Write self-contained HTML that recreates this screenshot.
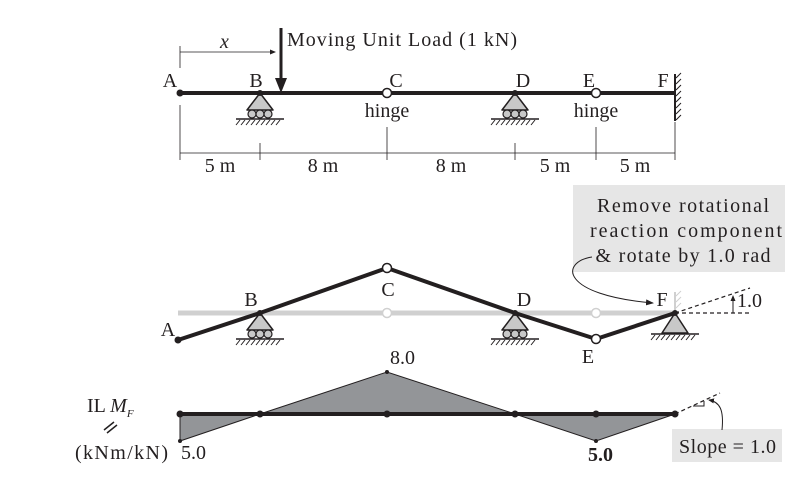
<!DOCTYPE html>
<html><head><style>body{margin:0;background:#fff}svg{display:block}text{font-family:"Liberation Serif",serif;font-size:20px;fill:#231f20}</style></head><body>
<svg width="800" height="480" viewBox="0 0 800 480" xmlns="http://www.w3.org/2000/svg">
<defs>
<marker id="ah" markerWidth="8" markerHeight="8" refX="7" refY="4" orient="auto" markerUnits="userSpaceOnUse"><path d="M0,1 L8,4 L0,7 Z" fill="#231f20"/></marker>
<marker id="ahs" markerWidth="6" markerHeight="6" refX="5" refY="3" orient="auto" markerUnits="userSpaceOnUse"><path d="M0,0.5 L6,3 L0,5.5 Z" fill="#231f20"/></marker>
<g id="roller">
<path d="M0,0 L-13,17 L13,17 Z" fill="#c8c8c8" stroke="#231f20" stroke-width="1.5" stroke-linejoin="round"/>
<circle cx="-8" cy="21" r="4" fill="#c8c8c8" stroke="#231f20" stroke-width="1.2"/>
<circle cx="0" cy="21" r="4" fill="#c8c8c8" stroke="#231f20" stroke-width="1.2"/>
<circle cx="8" cy="21" r="4" fill="#c8c8c8" stroke="#231f20" stroke-width="1.2"/>
<line x1="-24" y1="26" x2="24" y2="26" stroke="#231f20" stroke-width="1.5"/>
<path d="M-20,27 l-4,5 M-15,27 l-4,5 M-10,27 l-4,5 M-5,27 l-4,5 M0,27 l-4,5 M5,27 l-4,5 M10,27 l-4,5 M15,27 l-4,5 M20,27 l-4,5" stroke="#231f20" stroke-width="1"/>
</g>
<g id="pin">
<path d="M0,0 L-13,20 L13,20 Z" fill="#c8c8c8" stroke="#231f20" stroke-width="1.5" stroke-linejoin="round"/>
<line x1="-24" y1="21" x2="24" y2="21" stroke="#231f20" stroke-width="1.5"/>
<path d="M-20,22 l-4,5 M-15,22 l-4,5 M-10,22 l-4,5 M-5,22 l-4,5 M0,22 l-4,5 M5,22 l-4,5 M10,22 l-4,5 M15,22 l-4,5 M20,22 l-4,5" stroke="#231f20" stroke-width="1"/>
</g>
</defs>

<!-- TOP BEAM -->
<line x1="180" y1="52" x2="275" y2="52" stroke="#231f20" stroke-width="0.8" marker-end="url(#ahs)"/>
<line x1="180" y1="46" x2="180" y2="68" stroke="#231f20" stroke-width="0.8"/>
<text x="220" y="48" font-style="italic">x</text>
<line x1="281" y1="28" x2="281" y2="80" stroke="#231f20" stroke-width="3"/>
<path d="M275,78 L287,78 L281,93 Z" fill="#231f20"/>
<text x="287" y="46" textLength="230">Moving Unit Load (1 kN)</text>
<use href="#roller" x="260" y="93"/>
<use href="#roller" x="515" y="93"/>
<line x1="180" y1="93" x2="675" y2="93" stroke="#231f20" stroke-width="4"/>
<line x1="675" y1="74" x2="675" y2="121" stroke="#231f20" stroke-width="2"/>
<path d="M676,78 l5,-5 M676,84 l5,-5 M676,90 l5,-5 M676,96 l5,-5 M676,102 l5,-5 M676,108 l5,-5 M676,114 l5,-5 M676,120 l5,-5" stroke="#231f20" stroke-width="1"/>
<circle cx="180" cy="93" r="3.5" fill="#231f20"/>
<circle cx="260" cy="93" r="3" fill="#231f20"/>
<circle cx="515" cy="93" r="3" fill="#231f20"/>
<circle cx="387" cy="93" r="4.5" fill="#fff" stroke="#231f20" stroke-width="1.5"/>
<circle cx="596" cy="93" r="4.5" fill="#fff" stroke="#231f20" stroke-width="1.5"/>
<text x="170" y="87" text-anchor="middle">A</text><text x="256" y="87" text-anchor="middle">B</text><text x="396" y="87" text-anchor="middle">C</text><text x="523" y="87" text-anchor="middle">D</text><text x="589" y="87" text-anchor="middle">E</text><text x="663" y="87" text-anchor="middle">F</text>
<text x="387" y="117" text-anchor="middle">hinge</text><text x="596" y="117" text-anchor="middle">hinge</text>
<!-- dimension -->
<g stroke="#231f20" stroke-width="0.8">
<line x1="180" y1="105" x2="180" y2="160"/><line x1="260" y1="143" x2="260" y2="160"/><line x1="387" y1="127" x2="387" y2="160"/><line x1="515" y1="143" x2="515" y2="160"/><line x1="596" y1="127" x2="596" y2="160"/><line x1="675" y1="122" x2="675" y2="160"/>
<line x1="180" y1="153" x2="675" y2="153"/>
</g>
<text x="220" y="172" text-anchor="middle">5 m</text><text x="323" y="172" text-anchor="middle">8 m</text><text x="451" y="172" text-anchor="middle">8 m</text><text x="555" y="172" text-anchor="middle">5 m</text><text x="635" y="172" text-anchor="middle">5 m</text>

<!-- MIDDLE -->
<rect x="573" y="185" width="212" height="87" fill="#e6e6e6"/>
<text x="683" y="212" text-anchor="middle" textLength="172">Remove rotational</text>
<text x="686" y="237" text-anchor="middle" textLength="192">reaction component</text>
<text x="683" y="262" text-anchor="middle" textLength="175">&amp; rotate by 1.0 rad</text>
<path d="M592,257 C560,262 560,295 653,303" fill="none" stroke="#231f20" stroke-width="1" marker-end="url(#ah)"/>
<line x1="178" y1="313" x2="675" y2="313" stroke="#d0d0d0" stroke-width="5"/>
<circle cx="387" cy="313" r="4.5" fill="#fff" stroke="#d0d0d0" stroke-width="1.5"/>
<circle cx="596" cy="313" r="4.5" fill="#fff" stroke="#d0d0d0" stroke-width="1.5"/>
<line x1="675" y1="292" x2="675" y2="313" stroke="#d0d0d0" stroke-width="2"/>
<path d="M676,296 l5,-5 M676,302 l5,-5 M676,308 l5,-5" stroke="#d0d0d0" stroke-width="1"/>
<use href="#roller" x="260" y="313"/>
<use href="#roller" x="515" y="313"/>
<use href="#pin" x="675" y="313"/>
<polyline points="178,340 260,313 387,268 515,313 596,339 675,313" fill="none" stroke="#231f20" stroke-width="4" stroke-linejoin="round"/>
<circle cx="178" cy="340" r="3.5" fill="#231f20"/>
<circle cx="260" cy="313" r="3" fill="#231f20"/>
<circle cx="515" cy="313" r="3" fill="#231f20"/>
<circle cx="675" cy="313" r="3" fill="#231f20"/>
<circle cx="387" cy="268" r="4.5" fill="#fff" stroke="#231f20" stroke-width="1.5"/>
<circle cx="596" cy="339" r="4.5" fill="#fff" stroke="#231f20" stroke-width="1.5"/>
<text x="168" y="336" text-anchor="middle">A</text><text x="251" y="306" text-anchor="middle">B</text><text x="388" y="296" text-anchor="middle">C</text><text x="524" y="306" text-anchor="middle">D</text><text x="588" y="363" text-anchor="middle">E</text><text x="662" y="306" text-anchor="middle">F</text>
<g stroke="#231f20" stroke-width="1.2" stroke-dasharray="4,3" fill="none">
<line x1="675" y1="313" x2="750" y2="313"/><line x1="675" y1="313" x2="750" y2="288"/>
</g>
<path d="M733,313 L733,296" stroke="#231f20" stroke-width="1" marker-end="url(#ahs)"/>
<text x="737" y="307">1.0</text>

<!-- BOTTOM -->
<polygon points="180,414 180,441 260,414" fill="#939598" stroke="#231f20" stroke-width="1"/>
<polygon points="260,414 387,372 515,414" fill="#939598" stroke="#231f20" stroke-width="1"/>
<polygon points="515,414 596,441 675,414" fill="#939598" stroke="#231f20" stroke-width="1"/>
<line x1="180" y1="414" x2="675" y2="414" stroke="#231f20" stroke-width="4"/>
<g fill="#231f20">
<circle cx="180" cy="414" r="3.5"/><circle cx="260" cy="414" r="3.5"/><circle cx="387" cy="414" r="3.5"/><circle cx="515" cy="414" r="3.5"/><circle cx="596" cy="414" r="3.5"/><circle cx="675" cy="414" r="3.5"/>
<circle cx="387" cy="372" r="2"/><circle cx="180" cy="441" r="2"/><circle cx="596" cy="441" r="2"/>
</g>
<line x1="675" y1="414" x2="720" y2="393" stroke="#231f20" stroke-width="1.2" stroke-dasharray="4,3"/>
<path d="M693,406 L704,406 L704,401" fill="none" stroke="#231f20" stroke-width="1"/>
<text x="390" y="364">8.0</text>
<text x="181" y="459">5.0</text>
<text x="588" y="461" font-weight="bold">5.0</text>
<text x="87" y="412">IL <tspan font-style="italic">M</tspan><tspan font-style="italic" font-size="11" dy="5">F</tspan></text>
<path d="M104,430 L114,422 M107,433 L117,425" stroke="#231f20" stroke-width="1.5"/>
<text x="75" y="459" textLength="93">(kNm/kN)</text>
<rect x="672" y="429" width="110" height="33" fill="#e6e6e6"/>
<text x="679" y="453" textLength="97">Slope = 1.0</text>
<path d="M722,430 C724,410 720,402 709,400" fill="none" stroke="#231f20" stroke-width="1" marker-end="url(#ahs)"/>
</svg>
</body></html>
